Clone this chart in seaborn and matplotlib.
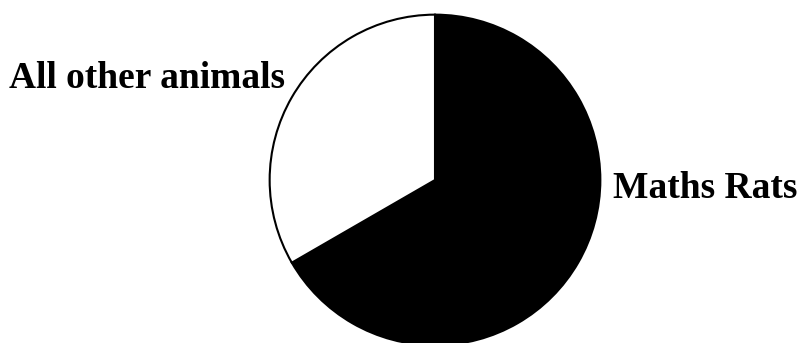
import matplotlib
matplotlib.use("Agg")
import matplotlib.pyplot as plt
import seaborn as sns

categories = ["Maths Rats", "All other animals"]
values = [2, 1]
colors = ["black", "white"]

sns.set_theme(style="white")
plt.rcParams['font.family'] = ['Liberation Serif', 'DejaVu Serif']

W, H = 804, 343
fig = plt.figure(figsize=(W / 100, H / 100), dpi=100)
cx, cy, r = 435, 180, 167
ax = fig.add_axes([(cx - r) / W, (H - cy - r) / H, 2 * r / W, 2 * r / H])
wedges, _ = ax.pie(values, colors=colors, startangle=90, counterclock=False,
                   radius=1, wedgeprops=dict(edgecolor="black", linewidth=1.5))
ax.set_xlim(-1.01, 1.01)
ax.set_ylim(-1.01, 1.01)
ax.set_aspect("equal")
ax.axis("off")

fig.text(285 / W, (H - 79) / H, categories[1], ha="right", va="center",
         fontsize=27, fontweight="bold", color="black")
fig.text(613 / W, (H - 189) / H, categories[0], ha="left", va="center",
         fontsize=27, fontweight="bold", color="black")

fig.savefig("out.png", dpi=100, facecolor="white")
